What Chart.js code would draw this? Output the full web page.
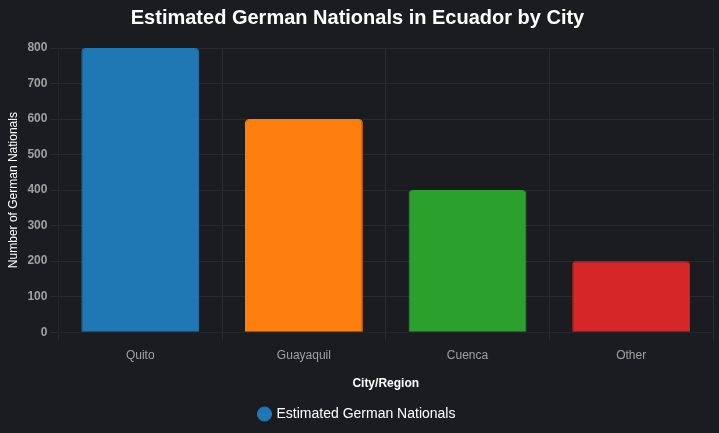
<!DOCTYPE html>
<html>
<head>
<meta charset="utf-8">
<script src="https://cdn.jsdelivr.net/npm/chart.js"></script>
<style>
  html, body { margin: 0; padding: 0; background: #1b1c20; }
  #wrap { width: 719px; height: 433px; }
</style>
</head>
<body>
<div id="wrap"><canvas id="chart"></canvas></div>
<script>
const categories = ['Quito', 'Guayaquil', 'Cuenca', 'Other'];
const germanNationals = [800, 600, 400, 200];
const barColors = ['#1f77b4', '#ff7f0e', '#2ca02c', '#d62728'];

const ctx = document.getElementById('chart').getContext('2d');
new Chart(ctx, {
  type: 'bar',
  data: {
    labels: categories,
    datasets: [{
      label: 'Estimated German Nationals',
      data: germanNationals,
      backgroundColor: barColors,
      borderColor: barColors,
      borderWidth: 1,
      borderRadius: 4
    }]
  },
  options: {
    responsive: true,
    maintainAspectRatio: false,
    animation: false,
    layout: { padding: { left: 2, right: 6, bottom: 2 } },
    plugins: {
      title: {
        display: true,
        text: 'Estimated German Nationals in Ecuador by City',
        color: '#ffffff',
        font: { family: 'Arial, Liberation Sans', size: 20, weight: 'bold' },
        padding: { top: 6, bottom: 18 }
      },
      legend: {
        position: 'bottom',
        labels: {
          color: '#ffffff',
          usePointStyle: true,
          pointStyle: 'circle',
          boxWidth: 10,
          boxHeight: 10,
          font: { family: 'Arial, Liberation Sans', size: 14 },
          padding: 12
        }
      }
    },
    scales: {
      x: {
        grid: { color: '#2a2b30' },
        ticks: { color: '#a0a0a0', padding: 8, font: { family: 'Arial, Liberation Sans', size: 12 } },
        title: { display: true, text: 'City/Region', color: '#ffffff', padding: { top: 6 },
                 font: { family: 'Arial, Liberation Sans', size: 12, weight: 'bold' } }
      },
      y: {
        beginAtZero: true,
        max: 800,
        grid: { color: '#2a2b30' },
        ticks: { stepSize: 100, color: '#a0a0a0', font: { family: 'Arial, Liberation Sans', size: 12, weight: 'bold' } },
        title: { display: true, text: 'Number of German Nationals', color: '#ffffff',
                 font: { family: 'Arial, Liberation Sans', size: 12 } }
      }
    }
  }
});
</script>
</body>
</html>
